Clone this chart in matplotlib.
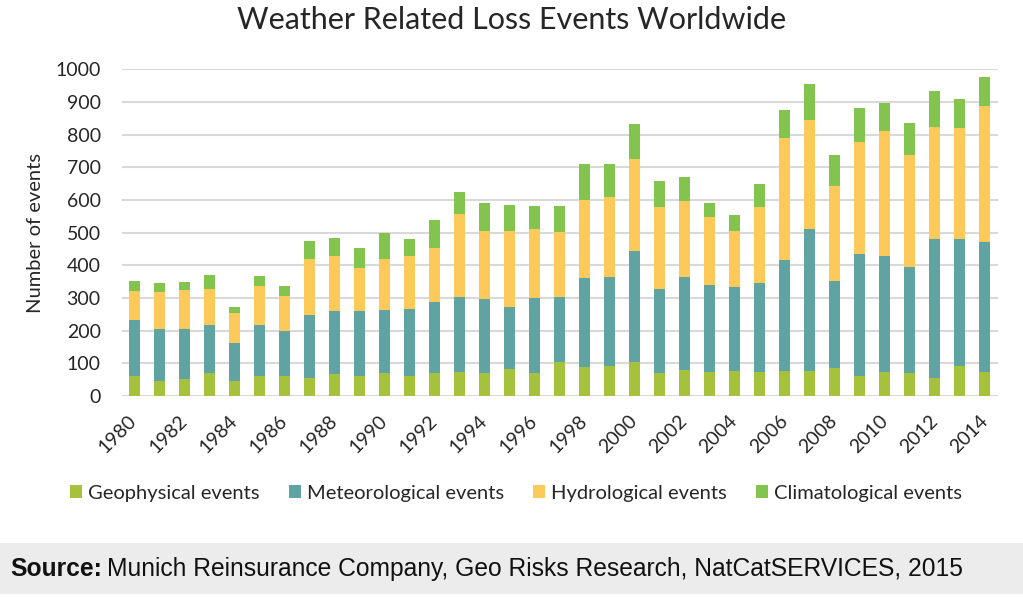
import matplotlib
matplotlib.use("Agg")
import matplotlib.pyplot as plt
import numpy as np
from matplotlib.patches import Rectangle

years = list(range(1980, 2015))
geophysical = [61, 46, 52, 71, 46, 61, 61, 56, 66, 61, 71, 61, 69, 74, 71, 82, 71, 105,
               88, 92, 103, 71, 79, 74, 77, 74, 77, 77, 85, 62, 74, 69, 56, 93, 74]
meteorological = [171, 158, 152, 146, 115, 156, 139, 192, 193, 198, 191, 205, 218, 228, 225, 191, 228, 197,
                  274, 273, 341, 255, 286, 265, 257, 273, 339, 433, 267, 374, 354, 327, 424, 387, 398]
hydrological = [90, 114, 120, 111, 94, 119, 107, 171, 170, 134, 156, 163, 167, 254, 210, 232, 211, 201,
                238, 245, 281, 251, 233, 210, 172, 232, 375, 334, 291, 340, 383, 343, 344, 341, 416]
climatological = [31, 27, 24, 42, 18, 31, 29, 54, 55, 59, 80, 51, 86, 69, 85, 79, 71, 78,
                  110, 100, 107, 81, 71, 42, 48, 69, 84, 111, 96, 107, 87, 97, 110, 89, 89]
series_names = ["Geophysical events", "Meteorological events", "Hydrological events", "Climatological events"]
y_ticks = list(range(0, 1001, 100))
x_tick_labels = [str(y) for y in years[::2]]

colors = ["#a6c23c", "#5fa3a3", "#fdca5a", "#82c44e"]
font = "Lato"
txt = "#262626"

fig = plt.figure(figsize=(10.23, 5.97), dpi=100)
ax = fig.add_axes([121.5 / 1023, 1 - 396 / 597, 876 / 1023, (396 - 69.3) / 597])

x = np.arange(len(years))
bottom = np.zeros(len(years))
for vals, c, name in zip([geophysical, meteorological, hydrological, climatological], colors, series_names):
    ax.bar(x, vals, width=0.44, bottom=bottom, color=c, label=name, zorder=3)
    bottom += np.array(vals)

ax.set_xlim(-0.5, len(years) - 0.5)
ax.set_ylim(0, 1000)
ax.set_yticks(y_ticks)
ax.set_yticklabels([str(v) for v in y_ticks], fontfamily=font, fontsize=14, color=txt)
ax.yaxis.grid(True, color="#d9d9d9", linewidth=1.5, zorder=0)
ax.set_axisbelow(True)
for s in ax.spines.values():
    s.set_visible(False)
ax.tick_params(axis="y", length=0, pad=15)
ax.tick_params(axis="x", length=0, pad=16)
ax.set_xticks(x[::2])
ax.set_xticklabels(x_tick_labels, rotation=45, ha="right", va="center", rotation_mode="anchor",
                   fontfamily=font, fontsize=14, color=txt)
ax.set_ylabel("Number of events", fontfamily=font, fontsize=14.5, color=txt, labelpad=8)

fig.text(512 / 1023, 1 - 20 / 597, "Weather Related Loss Events Worldwide", ha="center", va="center",
         fontfamily=font, fontsize=22, color=txt)

leg = fig.legend(loc="center", bbox_to_anchor=(516 / 1023, 1 - 493 / 597), ncol=4, frameon=False,
                 prop={"family": font, "size": 14.5}, handlelength=0.6, handleheight=0.6,
                 handletextpad=0.3, columnspacing=1.45)
for t in leg.get_texts():
    t.set_color(txt)

fig.patches.append(Rectangle((0, 3 / 597), 1, 51 / 597, transform=fig.transFigure,
                             facecolor="#ececec", edgecolor="none", zorder=0))
t1 = fig.text(10 / 1023, 1 - 569 / 597, "Source:", fontsize=17.7, va="center", ha="left",
              fontfamily="Liberation Sans", fontweight="bold", color="#111111")
fig.canvas.draw()
bb = t1.get_window_extent()
fig.text((bb.x1 + 5) / 1023, 1 - 569 / 597,
         "Munich Reinsurance Company, Geo Risks Research, NatCatSERVICES, 2015",
         fontsize=17.7, va="center", ha="left", fontfamily="Liberation Sans", color="#111111")

fig.savefig("out.png", dpi=100)
